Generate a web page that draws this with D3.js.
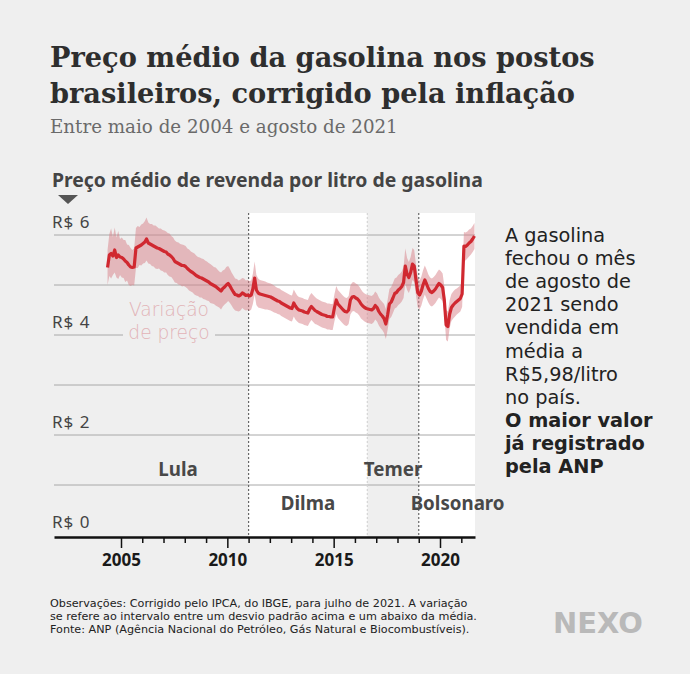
<!DOCTYPE html>
<html>
<head>
<meta charset="utf-8">
<style>
  body { margin: 0; background: #efefef; }
  svg { display: block; background: #efefef; }
  text { font-family: "Noto Sans", sans-serif; }
  .title { font-family: "DejaVu Serif", serif; font-weight: bold; fill: #2e2e2e; }
  .subtitle { font-family: "DejaVu Serif", serif; fill: #6a6a6a; }
  .grid line { stroke: #a8a8a8; stroke-width: 1; }
  .ylab { fill: #444; font-size: 17px; letter-spacing: 1px; }
  .axis path { stroke: #111; stroke-width: 2.5; }
  .axis line { stroke: #111; stroke-width: 1.5; }
  .axis text { fill: #1a1a1a; font-weight: bold; font-size: 17px; font-family: "Noto Sans", sans-serif; }
  .periodo { fill: #484848; font-weight: bold; }
  .nota { fill: #222; font-family: "DejaVu Sans", sans-serif; }
  .rodape { fill: #222; font-size: 11px; font-family: "DejaVu Sans", sans-serif; }
  .variacao { fill: #e2b3b7; font-family: "DejaVu Sans", sans-serif; font-weight: 300; }
</style>
</head>
<body>
<svg id="chart" width="690" height="674"></svg>
<script src="https://d3js.org/d3.v7.min.js"></script>
<script>

// monthly average price (R$/litre, July 2021 values), May 2004 .. Aug 2021
var firstMonth = new Date(2004, 4, 15);
var precoMedio = [
  5.35, 5.60, 5.63, 5.58, 5.70, 5.55, 5.60, 5.56,                         // 2004
  5.55, 5.52, 5.48, 5.45, 5.40, 5.36, 5.35, 5.36, 5.74, 5.76, 5.78, 5.80, // 2005
  5.83, 5.86, 5.92, 5.84, 5.82, 5.80, 5.78, 5.76, 5.74, 5.73, 5.71, 5.69, // 2006
  5.67, 5.66, 5.62, 5.60, 5.57, 5.53, 5.47, 5.45, 5.43, 5.41, 5.39, 5.39, // 2007
  5.37, 5.33, 5.30, 5.27, 5.25, 5.22, 5.19, 5.17, 5.15, 5.14, 5.12, 5.10, // 2008
  5.08, 5.06, 5.03, 5.01, 4.99, 4.97, 4.94, 4.91, 4.88, 4.93, 4.96, 5.00, // 2009
  5.03, 4.98, 4.92, 4.86, 4.81, 4.80, 4.78, 4.80, 4.84, 4.82, 4.79, 4.80, // 2010
  4.78, 4.80, 4.92, 5.14, 4.90, 4.84, 4.82, 4.81, 4.80, 4.79, 4.78, 4.77, // 2011
  4.76, 4.74, 4.72, 4.70, 4.68, 4.67, 4.64, 4.62, 4.60, 4.58, 4.56, 4.54, // 2012
  4.53, 4.64, 4.58, 4.53, 4.50, 4.49, 4.48, 4.46, 4.45, 4.44, 4.52, 4.57, // 2013
  4.53, 4.49, 4.47, 4.45, 4.43, 4.41, 4.40, 4.39, 4.37, 4.37, 4.36, 4.36, // 2014
  4.55, 4.70, 4.62, 4.58, 4.54, 4.50, 4.47, 4.46, 4.50, 4.70, 4.76, 4.77, // 2015
  4.74, 4.72, 4.68, 4.62, 4.58, 4.55, 4.53, 4.52, 4.51, 4.50, 4.53, 4.59, // 2016
  4.55, 4.47, 4.42, 4.38, 4.33, 4.22, 4.40, 4.62, 4.66, 4.74, 4.83, 4.85, // 2017
  4.90, 4.93, 4.97, 5.05, 5.38, 5.22, 5.15, 5.25, 5.42, 5.38, 5.10, 4.85, // 2018
  4.80, 4.88, 5.00, 5.10, 5.02, 4.93, 4.87, 4.85, 4.88, 4.92, 4.98, 5.03, // 2019
  5.00, 4.95, 4.70, 4.20, 4.17, 4.42, 4.55, 4.60, 4.64, 4.67, 4.70, 4.73, // 2020
  4.82, 5.78, 5.77, 5.80, 5.84, 5.87, 5.92, 5.98                          // 2021
];
// one standard deviation around the mean, same months
var desvio = [
  0.35, 0.42, 0.50, 0.38, 0.45, 0.40, 0.48, 0.36,
  0.40, 0.38, 0.42, 0.36, 0.40, 0.38, 0.35, 0.37, 0.40, 0.42, 0.38, 0.41,
  0.40, 0.42, 0.43, 0.41, 0.40, 0.42, 0.41, 0.43, 0.42, 0.40, 0.42, 0.41,
  0.42, 0.41, 0.42, 0.43, 0.41, 0.42, 0.42, 0.41, 0.42, 0.41, 0.42, 0.41,
  0.41, 0.40, 0.41, 0.40, 0.40, 0.41, 0.40, 0.39, 0.40, 0.39, 0.40, 0.39,
  0.39, 0.38, 0.39, 0.38, 0.37, 0.38, 0.37, 0.36, 0.37, 0.36, 0.35, 0.36,
  0.35, 0.34, 0.33, 0.33, 0.32, 0.32, 0.31, 0.31, 0.30, 0.31, 0.30, 0.30,
  0.30, 0.29, 0.30, 0.33, 0.30, 0.29, 0.28, 0.28, 0.28, 0.28, 0.27, 0.27,
  0.27, 0.27, 0.27, 0.26, 0.26, 0.26, 0.26, 0.26, 0.26, 0.26, 0.26, 0.26,
  0.26, 0.27, 0.27, 0.26, 0.26, 0.26, 0.26, 0.26, 0.26, 0.26, 0.27, 0.27,
  0.27, 0.27, 0.26, 0.26, 0.26, 0.26, 0.26, 0.26, 0.26, 0.26, 0.26, 0.26,
  0.27, 0.28, 0.28, 0.28, 0.28, 0.28, 0.28, 0.28, 0.28, 0.29, 0.29, 0.29,
  0.29, 0.29, 0.29, 0.29, 0.28, 0.28, 0.28, 0.28, 0.28, 0.28, 0.28, 0.28,
  0.28, 0.28, 0.28, 0.28, 0.29, 0.30, 0.30, 0.30, 0.30, 0.30, 0.30, 0.30,
  0.30, 0.30, 0.30, 0.31, 0.35, 0.32, 0.31, 0.31, 0.32, 0.32, 0.31, 0.30,
  0.29, 0.29, 0.29, 0.29, 0.29, 0.28, 0.28, 0.28, 0.28, 0.28, 0.28, 0.28,
  0.28, 0.28, 0.28, 0.30, 0.30, 0.28, 0.27, 0.27, 0.27, 0.26, 0.26, 0.26,
  0.26, 0.28, 0.28, 0.27, 0.27, 0.26, 0.26, 0.26
];

var yTicks = [1, 2, 3, 4, 5, 6];
var yLabels = [0, 2, 4, 6];
var anos = d3.range(2005, 2022);

var periodos = ["Lula", "Dilma", "Temer", "Bolsonaro"];
var periodoInicio = [new Date(2003, 0, 1), new Date(2011, 0, 1), new Date(2016, 7, 1), new Date(2019, 0, 1)];
var periodoFim = [new Date(2011, 0, 1), new Date(2016, 7, 1), new Date(2019, 0, 1), new Date(2022, 11, 31)];

var titulo = ["Preço médio da gasolina nos postos", "brasileiros, corrigido pela inflação"];
var subtitulo = "Entre maio de 2004 e agosto de 2021";
var eixoTitulo = "Preço médio de revenda por litro de gasolina";
var nota = ["A gasolina", "fechou o mês", "de agosto de", "2021 sendo", "vendida em", "média a", "R$5,98/litro", "no país."];
var notaDestaque = ["O maior valor", "já registrado", "pela ANP"];
var rodape = [
  "Observações: Corrigido pelo IPCA, do IBGE, para julho de 2021. A variação",
  "se refere ao intervalo entre um desvio padrão acima e um abaixo da média.",
  "Fonte: ANP (Agência Nacional do Petróleo, Gás Natural e Biocombustíveis)."
];

var data = precoMedio.map(function(v, i) {
  return { date: d3.timeMonth.offset(firstMonth, i), v: v, sd: desvio[i] };
});

var svg = d3.select('#chart');

// fit a text's font-size so that it is w pixels wide
function fit(sel, w) {
  var len = sel.node().getComputedTextLength();
  var fs = parseFloat(sel.style('font-size'));
  var nfs = fs * w / len;
  sel.style('font-size', nfs + 'px');
  return nfs;
}

var plotLeft = 54, plotRight = 475, plotTop = 213, axisY = 537;

var x = d3.scaleTime()
  .domain([new Date(2005, 0, 1), new Date(2020, 0, 1)])
  .range([121, 440]);
x.domain([x.invert(plotLeft), x.invert(plotRight)]).range([plotLeft, plotRight]);

var y = d3.scaleLinear()
  .domain([0, 6])
  .range([535, 235]);

// titles
var t1 = svg.append('text').attr('class', 'title').attr('x', 50).attr('y', 67).style('font-size', '28px').text(titulo[0]);
var tfs = fit(t1, 545);
svg.append('text').attr('class', 'title').attr('x', 50).attr('y', 103).style('font-size', tfs + 'px').text(titulo[1]);
var st = svg.append('text').attr('class', 'subtitle').attr('x', 50).attr('y', 133).style('font-size', '17px').text(subtitulo);
fit(st, 348);

// axis title + marker
var at = svg.append('text').attr('x', 52).attr('y', 187).style('font-size', '17px')
  .style('font-weight', 'bold').style('fill', '#444').text(eixoTitulo);
fit(at, 431);
svg.append('path').attr('d', 'M58,195 L78,195 L68,204 Z').style('fill', '#555');

// period bands (white for Dilma and Bolsonaro)
var bands = svg.append('g');
periodos.forEach(function(p, i) {
  if (i % 2 == 1) {
    bands.append('rect')
      .attr('x', x(periodoInicio[i]))
      .attr('y', plotTop)
      .attr('width', Math.min(x(periodoFim[i]), plotRight) - x(periodoInicio[i]))
      .attr('height', axisY - plotTop)
      .style('fill', '#ffffff');
  }
});

// grid
var grid = svg.append('g').attr('class', 'grid');
grid.selectAll('line').data(yTicks).enter().append('line')
  .attr('x1', plotLeft).attr('x2', plotRight)
  .attr('y1', function(d) { return y(d); })
  .attr('y2', function(d) { return y(d); });

svg.selectAll('.ylab').data(yLabels).enter().append('text')
  .attr('class', 'ylab')
  .attr('x', 52)
  .attr('y', function(d) { return y(d) - 7; })
  .text(function(d) { return 'R$ ' + d; });

// dotted separators
[1, 2, 3].forEach(function(i) {
  svg.append('line')
    .attr('x1', x(periodoInicio[i])).attr('x2', x(periodoInicio[i]))
    .attr('y1', plotTop).attr('y2', axisY)
    .style('stroke', i == 2 ? '#d4d4d4' : '#666')
    .style('stroke-width', 1.2)
    .style('stroke-dasharray', '2,2');
});

// "Variação de preço" label with a gap in the gridline
svg.append('rect').attr('x', 123).attr('y', y(4) - 3).attr('width', 92).attr('height', 6).style('fill', '#efefef');
var v1 = svg.append('text').attr('class', 'variacao').attr('x', 169).attr('y', 316).attr('text-anchor', 'middle')
  .style('font-size', '18px').text('Variação');
var vfs = fit(v1, 80);
svg.append('text').attr('class', 'variacao').attr('x', 169).attr('y', 339).attr('text-anchor', 'middle')
  .style('font-size', vfs + 'px').text('de preço');

// band and line
var area = d3.area()
  .x(function(d) { return x(d.date); })
  .y0(function(d) { return y(d.v - d.sd); })
  .y1(function(d) { return y(d.v + d.sd); });

var line = d3.line()
  .x(function(d) { return x(d.date); })
  .y(function(d) { return y(d.v); });

svg.append('path').datum(data).attr('d', area)
  .style('fill', '#d77f87').style('opacity', 0.5);

svg.append('path').datum(data).attr('d', line)
  .style('fill', 'none').style('stroke', '#d02830').style('stroke-width', 3.2)
  .style('stroke-linejoin', 'round');

// x axis
var axis = svg.append('g').attr('class', 'axis')
  .attr('transform', 'translate(0,' + axisY + ')')
  .call(d3.axisBottom(x)
    .tickValues(anos.map(function(a) { return new Date(a, 0, 1); }))
    .tickSize(6)
    .tickSizeOuter(0)
    .tickFormat(function(d) { return d.getFullYear() % 5 == 0 ? d.getFullYear() : ''; }));
axis.selectAll('.tick line').attr('y2', function(d) { return d.getFullYear() % 5 == 0 ? 11 : 6; });
axis.selectAll('.tick text').attr('y', 29).attr('dy', 0);

// period labels
var dataStart = data[0].date, dataEnd = data[data.length - 1].date;
var plab = svg.append('g');
periodos.forEach(function(p, i) {
  var a = x(d3.max([periodoInicio[i], dataStart]));
  var b = x(d3.min([periodoFim[i], dataEnd]));
  plab.append('text')
    .attr('class', 'periodo')
    .attr('x', (a + b) / 2 + (i == 3 ? 11 : 0))
    .attr('y', i % 2 == 0 ? 476 : 510)
    .attr('text-anchor', 'middle')
    .style('font-size', '17px')
    .text(p);
});
var pfs = fit(plab.selectAll('text').filter(function(d, i) { return i == 3; }), 94);
plab.selectAll('text').style('font-size', pfs + 'px');

// annotation at the right
var nfs;
nota.concat(notaDestaque).forEach(function(s, i) {
  var t = svg.append('text').attr('class', 'nota')
    .attr('x', 505).attr('y', 242 + i * 23.1)
    .style('font-weight', i >= nota.length ? 'bold' : 'normal')
    .style('font-size', '17px')
    .text(s);
  if (i == 2) nfs = fit(t, 126);
});
svg.selectAll('.nota').style('font-size', nfs + 'px');

// footer
var rfs;
rodape.forEach(function(s, i) {
  var t = svg.append('text').attr('class', 'rodape').attr('x', 50).attr('y', 607 + i * 13).text(s);
  if (i == 0) rfs = fit(t, 418);
});
svg.selectAll('.rodape').style('font-size', rfs + 'px');

// logo
var logo = svg.append('text').attr('x', 553).attr('y', 633)
  .style('font-family', '"DejaVu Sans", sans-serif').style('font-weight', 'bold')
  .style('fill', '#b9b9b9').style('font-size', '26px').text('NEXO');
fit(logo, 90);

</script>
</body>
</html>
